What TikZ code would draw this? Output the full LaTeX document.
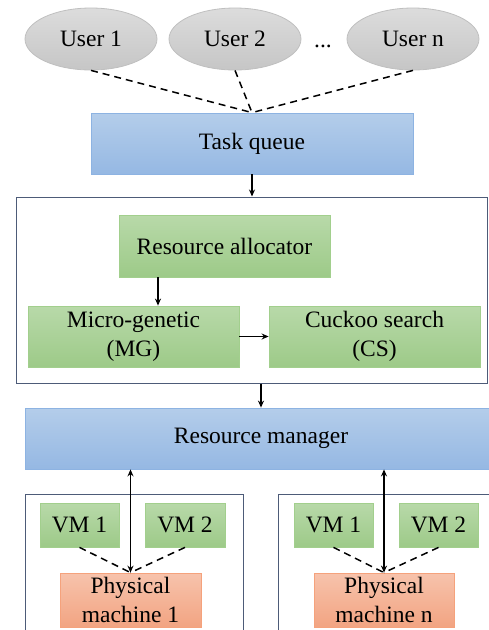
\documentclass[tikz,border=0pt]{standalone}
\usepackage{fontspec}
\setmainfont{Liberation Serif}
\usetikzlibrary{shapes.geometric,arrows.meta}
\definecolor{bluetop}{HTML}{B4CDEA}
\definecolor{bluebot}{HTML}{95B8E3}
\definecolor{blueline}{HTML}{8DB3E2}
\definecolor{greentop}{HTML}{B8D9A9}
\definecolor{greenbot}{HTML}{9DCA88}
\definecolor{greenline}{HTML}{A2CF8D}
\definecolor{orangetop}{HTML}{F7C3AC}
\definecolor{orangebot}{HTML}{F2A482}
\definecolor{orangeline}{HTML}{F5A27C}
\definecolor{graytop}{HTML}{DCDCDC}
\definecolor{graybot}{HTML}{C6C6C6}
\definecolor{grayline}{HTML}{BFBFBF}
\definecolor{frameline}{HTML}{4D5B78}
\tikzset{
  txt/.style={font=\fontsize{23.5}{29.5}\selectfont, align=center, inner sep=0pt, text=black},
  bluebox/.style={txt, rectangle, draw=blueline, line width=0.8pt, top color=bluetop, bottom color=bluebot},
  greenbox/.style={txt, rectangle, draw=greenline, line width=0.8pt, top color=greentop, bottom color=greenbot},
  orangebox/.style={txt, rectangle, draw=orangeline, line width=0.8pt, top color=orangetop, bottom color=orangebot},
  userell/.style={txt, ellipse, draw=grayline, line width=0.8pt, top color=graytop, bottom color=graybot, minimum width=132pt, minimum height=62pt},
  framebox/.style={rectangle, draw=frameline, line width=1pt, inner sep=0pt},
  arr/.style={line width=1.5pt, -{Stealth[length=7pt,width=6pt]}},
  darr/.style={line width=1.5pt, {Stealth[length=7pt,width=6pt]}-{Stealth[length=7pt,width=6pt]}},
  dashline/.style={line width=1.5pt, dash pattern=on 7pt off 5pt},
}
\begin{document}
\begin{tikzpicture}[x=1pt,y=-1pt]
\useasboundingbox (0,0) rectangle (489,630);
% users
\node[userell] (u1) at (91,39) {User 1};
\node[userell] (u2) at (235,39) {User 2};
\node[userell] (un) at (413,39) {User n};
\node[txt, anchor=base] (dots) at (323,47) {...};
% task queue
\node[bluebox, minimum width=322pt, minimum height=61pt] (tq) at (252,143.5) {Task queue};
% outer frame
\node[framebox, minimum width=471pt, minimum height=186pt] (outer) at (251.5,290) {};
\node[greenbox, minimum width=211pt, minimum height=62pt] (ra) at (224.5,246) {Resource allocator};
\node[greenbox, minimum width=211pt, minimum height=61pt] (mg) at (133.5,336.5) {Micro-genetic\\(MG)};
\node[greenbox, minimum width=211pt, minimum height=61pt] (cs) at (374.5,336.5) {Cuckoo search\\(CS)};
% resource manager
\node[bluebox, minimum width=467pt, minimum height=61pt] (rm) at (258.5,438.5) {};
\node[txt] (rmtext) at (261,438.5) {Resource manager};
% host frames
\node[framebox, minimum width=218pt, minimum height=146pt] (h1) at (134,567) {};
\node[framebox, minimum width=217pt, minimum height=146pt] (hn) at (386.5,567) {};
\node[greenbox, minimum width=79pt, minimum height=44pt] (vm11) at (79.5,525) {VM 1};
\node[greenbox, minimum width=80pt, minimum height=44pt] (vm12) at (185,525) {VM 2};
\node[orangebox, minimum width=141pt, minimum height=54pt] (pm1) at (130.5,600) {Physical\\machine 1};
\node[greenbox, minimum width=79pt, minimum height=44pt] (vmn1) at (333.5,525) {VM 1};
\node[greenbox, minimum width=79pt, minimum height=44pt] (vmn2) at (438.5,525) {VM 2};
\node[orangebox, minimum width=140pt, minimum height=54pt] (pmn) at (384,600) {Physical\\machine n};
% connectors
\draw[dashline] (u1.south) -- (tq.north);
\draw[dashline] (u2.south) -- (tq.north);
\draw[dashline] (un.south) -- (tq.north);
\draw[arr] (tq.south) -- (tq.south |- outer.north);
\draw[arr] ([xshift=-66.5pt]ra.south) -- ([xshift=-66.5pt]ra.south |- mg.north);
\draw[arr] (mg.east) -- (cs.west);
\draw[arr] ([xshift=9.5pt]outer.south) -- ([xshift=9.5pt]outer.south |- rm.north);
\draw[dashline] (vm11.south) -- (pm1.north);
\draw[dashline] (vm12.south) -- (pm1.north);
\draw[dashline] (vmn1.south) -- (pmn.north);
\draw[dashline] (vmn2.south) -- (pmn.north);
\draw[darr] (pm1.north |- rm.south) -- (pm1.north);
\draw[darr] (pmn.north |- rm.south) -- (pmn.north);
\end{tikzpicture}
\end{document}
